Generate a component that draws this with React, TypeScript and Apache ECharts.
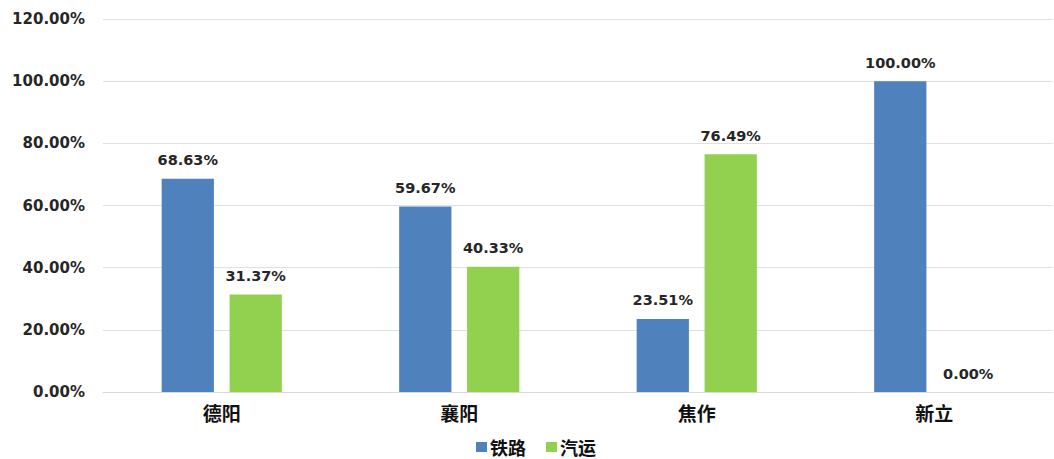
import React, { useEffect, useRef } from "react";
import * as echarts from "echarts";

const categories = ["德阳", "襄阳", "焦作", "新立"];
const railValues = [68.63, 59.67, 23.51, 100.0];
const roadValues = [31.37, 40.33, 76.49, 0.0];
const seriesNames = ["铁路", "汽运"];

export default function App() {
  const ref = useRef<HTMLDivElement>(null);
  useEffect(() => {
    if (!ref.current) return;
    const chart = echarts.init(ref.current, null, { renderer: "svg" });
    const font = "'Noto Sans CJK SC', 'DejaVu Sans', sans-serif";
    const labelStyle = {
      show: true,
      position: "top" as const,
      distance: 11,
      color: "#262626",
      fontWeight: "bold" as const,
      fontSize: 14.5,
      fontFamily: "Verdana, 'DejaVu Sans', sans-serif",
      formatter: (p: any) => Number(p.value).toFixed(2) + "%",
    };
    chart.setOption({
      animation: false,
      backgroundColor: "#ffffff",
      grid: { left: 103, right: 1, top: 19, bottom: 67, containLabel: false },
      legend: {
        data: seriesNames,
        bottom: 2,
        left: 476,
        padding: 0,
        icon: "rect",
        itemWidth: 11,
        itemHeight: 10,
        itemGap: 20,
        textStyle: { fontSize: 18, lineHeight: 20, fontWeight: "bold", color: "#111", fontFamily: font, padding: [0, 0, 0, -2] },
      },
      xAxis: {
        type: "category",
        data: categories,
        axisLine: { show: true, lineStyle: { color: "#d9d9d9", width: 1 } },
        axisTick: { show: false },
        axisLabel: {
          fontSize: 19,
          fontWeight: "bold",
          color: "#111",
          margin: 11,
          fontFamily: font,
        },
      },
      yAxis: {
        type: "value",
        min: 0,
        max: 120,
        interval: 20,
        axisLine: { show: false },
        axisTick: { show: false },
        splitLine: { lineStyle: { color: "#e0e0e0", width: 1 } },
        axisLabel: {
          formatter: (v: number) => v.toFixed(2) + "%",
          fontSize: 15,
          fontWeight: "bold",
          color: "#262626",
          margin: 18,
          fontFamily: "Verdana, 'DejaVu Sans', sans-serif",
        },
      },
      series: [
        {
          name: seriesNames[0],
          type: "bar",
          data: railValues,
          barWidth: "22%",
          barGap: "30%",
          itemStyle: { color: "#4F81BD" },
          label: labelStyle,
        },
        {
          name: seriesNames[1],
          type: "bar",
          data: roadValues,
          barWidth: "22%",
          itemStyle: { color: "#92D050" },
          label: labelStyle,
        },
      ],
    });
    return () => chart.dispose();
  }, []);
  return (
    <div
      ref={ref}
      style={{ position: "fixed", left: 0, top: 0, width: 1054, height: 459 }}
    />
  );
}
